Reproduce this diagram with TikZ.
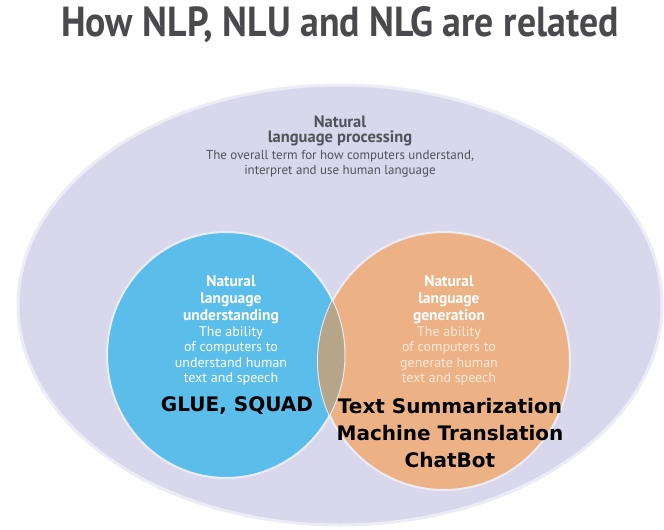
\documentclass[tikz,border=0pt]{standalone}
\usepackage{fontspec}
\usepackage{graphicx}
\setmainfont{PT Sans}
\newfontfamily\notefont{DejaVu Sans}

\definecolor{nlpfill}{RGB}{217,215,236}
\definecolor{nlpedge}{RGB}{236,236,246}
\definecolor{nlufill}{RGB}{91,190,234}
\definecolor{nlgfill}{RGB}{236,178,134}
\definecolor{bothfill}{RGB}{181,166,137}
\definecolor{titlegray}{RGB}{74,74,78}
\definecolor{nlpgray}{RGB}{82,82,90}
\definecolor{nlgtext}{RGB}{252,232,216}

\begin{document}
\begin{tikzpicture}[x=1pt,y=-1pt,
  heading/.style={font=\bfseries\fontsize{15.5}{17}\selectfont,align=center,inner sep=0pt},
  body/.style={font=\fontsize{14}{15.5}\selectfont,align=center,inner sep=0pt},
  note/.style={font=\notefont\bfseries\fontsize{20}{27}\selectfont,align=center,inner sep=0pt,text=black}]
\useasboundingbox[fill=white] (0,0) rectangle (664,530);

% title
\node[text=titlegray,font=\bfseries\fontsize{42}{46}\selectfont] (title) at (340,25)
  {\scalebox{0.9}[1]{How NLP, NLU and NLG are related}};

% the three sets
\draw[line width=3pt,draw=nlpedge,fill=nlpfill] (340,305) ellipse [x radius=322,y radius=220];
\draw[line width=2pt,draw=nlpedge,fill=nlufill] (226,355) ellipse [x radius=119,y radius=123];
\draw[line width=2pt,draw=nlpedge,fill=nlgfill] (444,361) ellipse [x radius=126,y radius=129];
\begin{scope}
  \clip (226,355) ellipse [x radius=119,y radius=123];
  \fill[bothfill] (444,361) ellipse [x radius=126,y radius=129];
\end{scope}
\draw[line width=1pt,draw=nlpedge] (226,355) ellipse [x radius=119,y radius=123];

% NLP
\node[heading,text=nlpgray,font=\bfseries\fontsize{16.5}{15}\selectfont] (nlphead) at (340,131) {Natural\\language processing};
\node[body,text=nlpgray,font=\fontsize{13}{14.5}\selectfont] (nlpbody) at (340,164)
  {The overall term for how computers understand,\\interpret and use human language};

% NLU
\node[heading,text=white] (nluhead) at (231,300) {Natural\\language\\understanding};
\node[body,text=white] (nlubody) at (231,356)
  {The ability\\of computers to\\understand human\\text and speech};

% NLG
\node[heading,text=white] (nlghead) at (449,300) {Natural\\language\\generation};
\node[body,text=nlgtext] (nlgbody) at (449,356)
  {The ability\\of computers to\\generate human\\text and speech};

% examples
\node[note] (nluex) at (237,406) {GLUE, SQUAD};
\node[note] (nlgex) at (450,433) {Text Summarization\\Machine Translation\\ChatBot};
\end{tikzpicture}
\end{document}
